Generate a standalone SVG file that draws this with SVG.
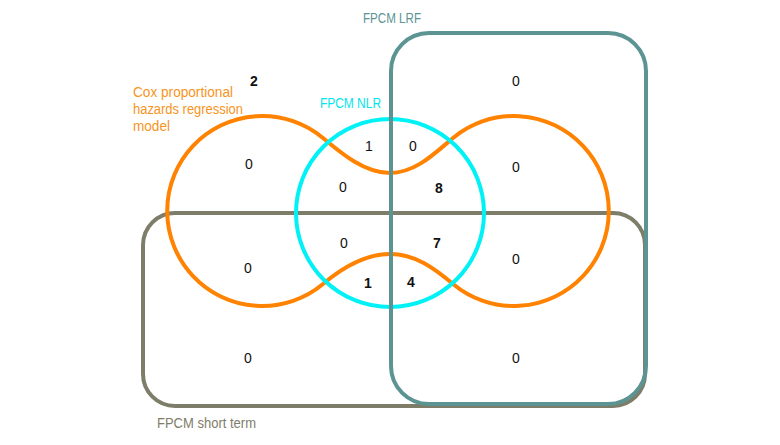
<svg xmlns="http://www.w3.org/2000/svg" width="780" height="445" viewBox="0 0 780 445">
<style>
.set{fill:none;stroke-width:4}
.n{font-family:"Liberation Sans",Arial,sans-serif;font-size:14px;fill:#111;text-anchor:middle}
.b{font-weight:bold}
.lab{font-family:"Liberation Sans",Arial,sans-serif;font-size:14px}
</style>
<rect width="780" height="445" fill="#fff"/>
<g id="connectors"></g>
<g id="short-term">
<rect class="set" x="143" y="213" width="502" height="193" rx="32" stroke="#7e7d6a"/>
<text class="lab" x="157" y="428" fill="#7e7d6a" textLength="99" lengthAdjust="spacingAndGlyphs">FPCM short term</text>
</g>
<g id="cox">
<path class="set" stroke="#ff8200" stroke-width="4.5" d="M323,138 C342,154 365,173 390,173 C415,173 434,154 453,138 A95,95 0 1 1 453,284 C434,268 415,254 390,254 C365,254 342,268 323,284 A95,95 0 1 1 323,138 Z"/>
<text class="lab" fill="#f7941d"><tspan x="133" y="97" textLength="100" lengthAdjust="spacingAndGlyphs">Cox proportional</tspan><tspan x="133" y="114" textLength="110" lengthAdjust="spacingAndGlyphs">hazards regression</tspan><tspan x="133" y="131" textLength="37" lengthAdjust="spacingAndGlyphs">model</tspan></text>
</g>
<g id="nlr">
<circle class="set" cx="390" cy="213" r="94" stroke="#00f2f6" stroke-width="4.5"/>
<text class="lab" x="320" y="108" fill="#00e6ee" textLength="61" lengthAdjust="spacingAndGlyphs">FPCM NLR</text>
</g>
<g id="lrf">
<rect class="set" x="391" y="33" width="255" height="371" rx="38" stroke="#5b9493"/>
<text class="lab" x="363" y="23" fill="#5b9493" textLength="58" lengthAdjust="spacingAndGlyphs">FPCM LRF</text>
</g>
<g id="counts">
<text class="n b" x="254" y="86">2</text>
<text class="n" x="516" y="86">0</text>
<text class="n" x="249" y="169">0</text>
<text class="n" x="369" y="151">1</text>
<text class="n" x="413" y="151">0</text>
<text class="n" x="343" y="192">0</text>
<text class="n b" x="439" y="193">8</text>
<text class="n" x="516" y="172">0</text>
<text class="n" x="344" y="248">0</text>
<text class="n b" x="437" y="248">7</text>
<text class="n" x="516" y="264">0</text>
<text class="n" x="248" y="273">0</text>
<text class="n b" x="368" y="288">1</text>
<text class="n b" x="411" y="287">4</text>
<text class="n" x="248" y="363">0</text>
<text class="n" x="516" y="363">0</text>
</g>
</svg>
